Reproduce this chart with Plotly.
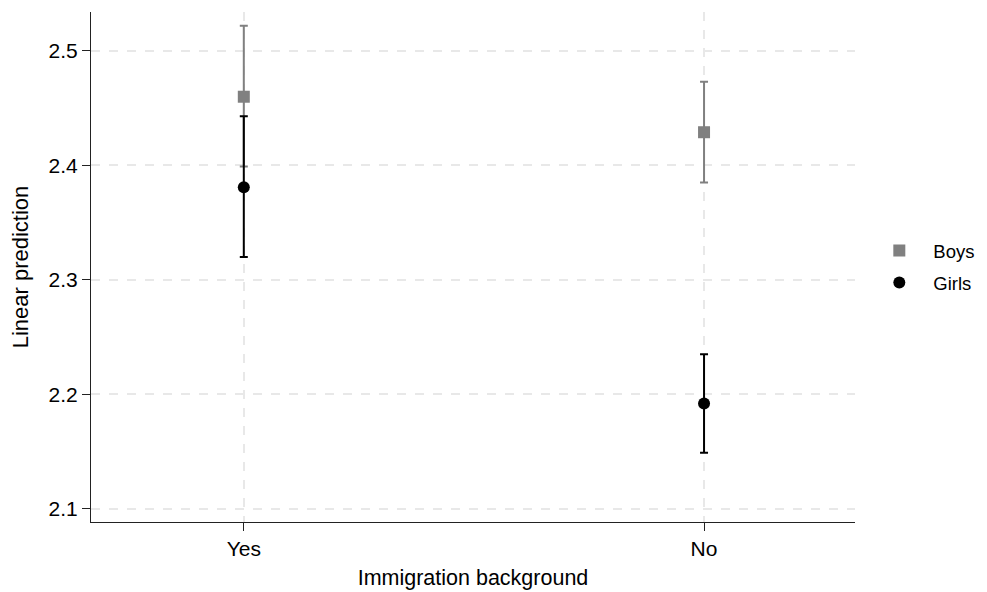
import plotly.graph_objects as go

categories = ["Yes", "No"]
boys_mean = [2.460, 2.429]
boys_low = [2.399, 2.385]
boys_high = [2.522, 2.473]
girls_mean = [2.381, 2.192]
girls_low = [2.320, 2.149]
girls_high = [2.443, 2.235]
y_ticks = [2.1, 2.2, 2.3, 2.4, 2.5]

FONT = "Liberation Sans, Arial, sans-serif"
GRAY = "#808080"

def errs(mean, low, high):
    return [h - m for m, h in zip(mean, high)], [m - l for m, l in zip(mean, low)]

bp, bm = errs(boys_mean, boys_low, boys_high)
gp, gm = errs(girls_mean, girls_low, girls_high)

fig = go.Figure()
fig.add_trace(go.Scatter(
    x=categories, y=boys_mean, mode="markers", name="Boys", legendgroup="b",
    marker=dict(symbol="square", size=12, color=GRAY),
    error_y=dict(type="data", array=bp, arrayminus=bm, color=GRAY, thickness=2, width=4),
))
fig.add_trace(go.Scatter(
    x=categories, y=girls_mean, mode="markers", name="Girls", legendgroup="g",
    marker=dict(symbol="circle", size=12, color="black"),
    error_y=dict(type="data", array=gp, arrayminus=gm, color="black", thickness=2, width=4),
))

fig.update_layout(
    width=987, height=592,
    margin=dict(l=83, r=140, t=4, b=78),
    plot_bgcolor="white", paper_bgcolor="white",
    font=dict(family=FONT, size=18, color="black"),
    showlegend=True,
    legend=dict(x=1.0135, y=0.5, xanchor="left", yanchor="middle",
                font=dict(size=18.5), tracegroupgap=5, itemwidth=58,
                itemsizing="constant"),
)
fig.update_xaxes(
    type="category", range=[-0.332, 1.328],
    showline=True, linecolor="#222", linewidth=1,
    ticks="outside", ticklen=8, tickcolor="#222",
    showgrid=True, gridcolor="#e8e8e8", griddash="dash", gridwidth=1.5,
    zeroline=False,
    title=dict(text="Immigration background", standoff=10, font=dict(size=21.5)),
    tickfont=dict(size=21),
)
fig.update_yaxes(
    range=[2.0886, 2.534], tickvals=y_ticks, ticktext=[f"{v:.1f}" for v in y_ticks],
    showline=True, linecolor="#222", linewidth=1,
    ticks="outside", ticklen=8, tickcolor="#222",
    showgrid=True, gridcolor="#e8e8e8", griddash="dash", gridwidth=1.5,
    zeroline=False,
    title=dict(text="Linear prediction", standoff=18, font=dict(size=22)),
    tickfont=dict(size=21),
)

fig.write_html("out.html")
